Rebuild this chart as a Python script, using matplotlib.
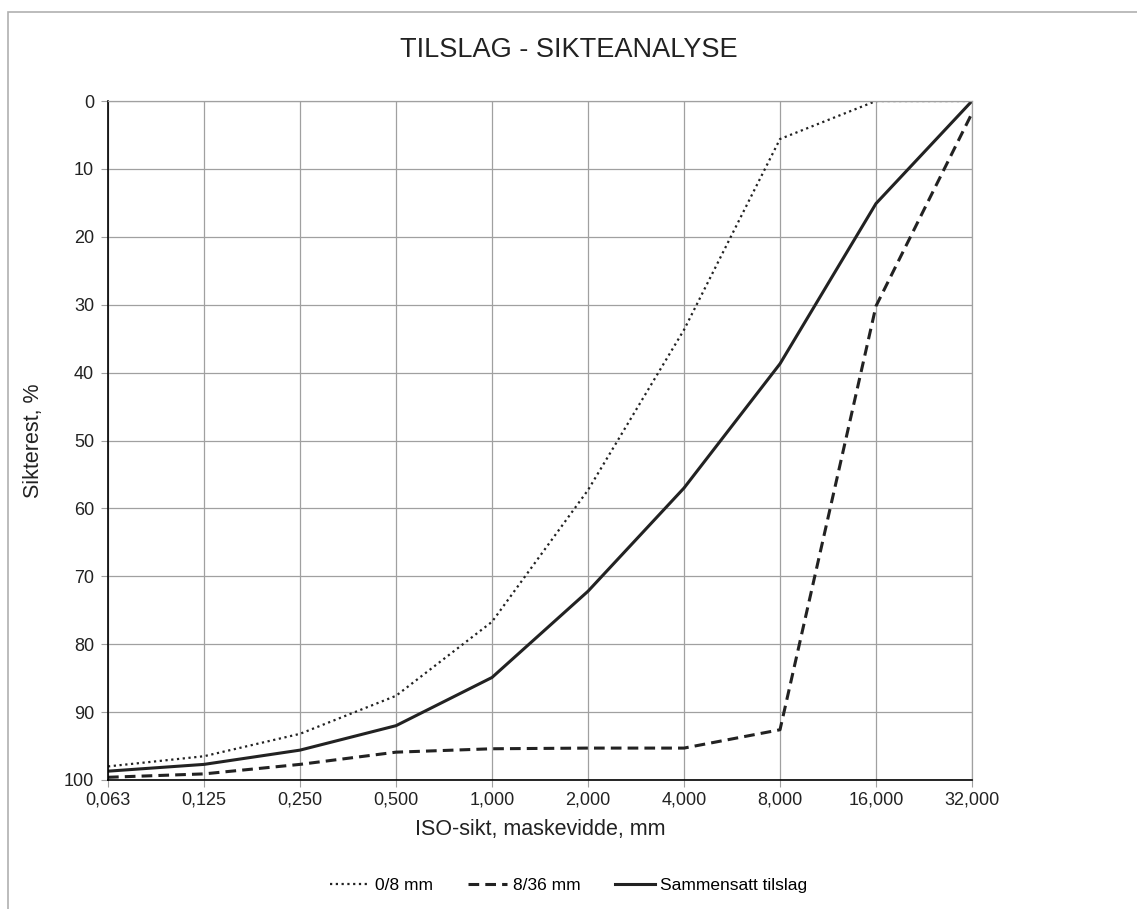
import numpy as np
import matplotlib.pyplot as plt
from matplotlib.patches import Rectangle

plt.rcParams['font.family'] = ['Liberation Sans', 'DejaVu Sans']

sikt = ['0,063', '0,125', '0,250', '0,500', '1,000', '2,000', '4,000', '8,000', '16,000', '32,000']
fin = [98.0, 96.5, 93.2, 87.6, 76.7, 57.3, 33.7, 5.6, 0.0, 0.0]
grov = [99.6, 99.1, 97.7, 95.9, 95.4, 95.3, 95.3, 92.6, 30.2, 1.8]
samlet = [98.7, 97.7, 95.6, 92.0, 84.9, 72.2, 57.0, 38.7, 15.1, 0.0]

fig = plt.figure(figsize=(11.37, 9.09), dpi=100)
ax = fig.add_axes([108 / 1137, 1 - 780 / 909, 864 / 1137, 679 / 909])

# ramme rundt diagramomraadet
fig.patches.append(Rectangle((8 / 1137, -0.1), 1.2, 1 - 12 / 909 + 0.1,
                             transform=fig.transFigure, fill=False,
                             edgecolor='#b0b0b0', linewidth=1.2))

x = np.arange(len(sikt))
ax.plot(x, fin, color='#222222', linestyle=(0, (1, 1.6)), linewidth=1.6, label='0/8 mm')
ax.plot(x, grov, color='#222222', linestyle=(0, (3.5, 2)), linewidth=2.2, label='8/36 mm')
ax.plot(x, samlet, color='#222222', linestyle='-', linewidth=2.2, label='Sammensatt tilslag')

ax.set_xlim(0, len(sikt) - 1)
ax.set_ylim(100, 0)
ax.set_xticks(x)
ax.set_xticklabels(sikt)
ax.set_yticks(np.arange(0, 101, 10))
ax.grid(True, color='#a0a0a0', linewidth=0.9)
ax.set_axisbelow(True)

for s in ['top', 'right']:
    ax.spines[s].set_color('#a0a0a0')
    ax.spines[s].set_linewidth(0.9)
for s in ['left', 'bottom']:
    ax.spines[s].set_color('black')
    ax.spines[s].set_linewidth(1.2)

ax.tick_params(axis='both', colors='#a0a0a0', labelcolor='#222222', labelsize=13, length=5)
ax.tick_params(axis='x', pad=3)
ax.tick_params(axis='y', pad=5)

ax.set_xlabel('ISO-sikt, maskevidde, mm', fontsize=15.5, color='#222222', labelpad=8)
ax.set_ylabel('Sikterest, %', fontsize=15.5, color='#222222', labelpad=14)
fig.text(0.5, 1 - 50 / 909, 'TILSLAG - SIKTEANALYSE', ha='center', va='center',
         fontsize=19.5, color='#222222')

fig.legend(loc='center', bbox_to_anchor=(0.5, 1 - 885 / 909), ncol=3, frameon=False,
           fontsize=12.5, handlelength=2.3, handletextpad=0.3, columnspacing=2.0)

fig.savefig('out.png', dpi=100)
